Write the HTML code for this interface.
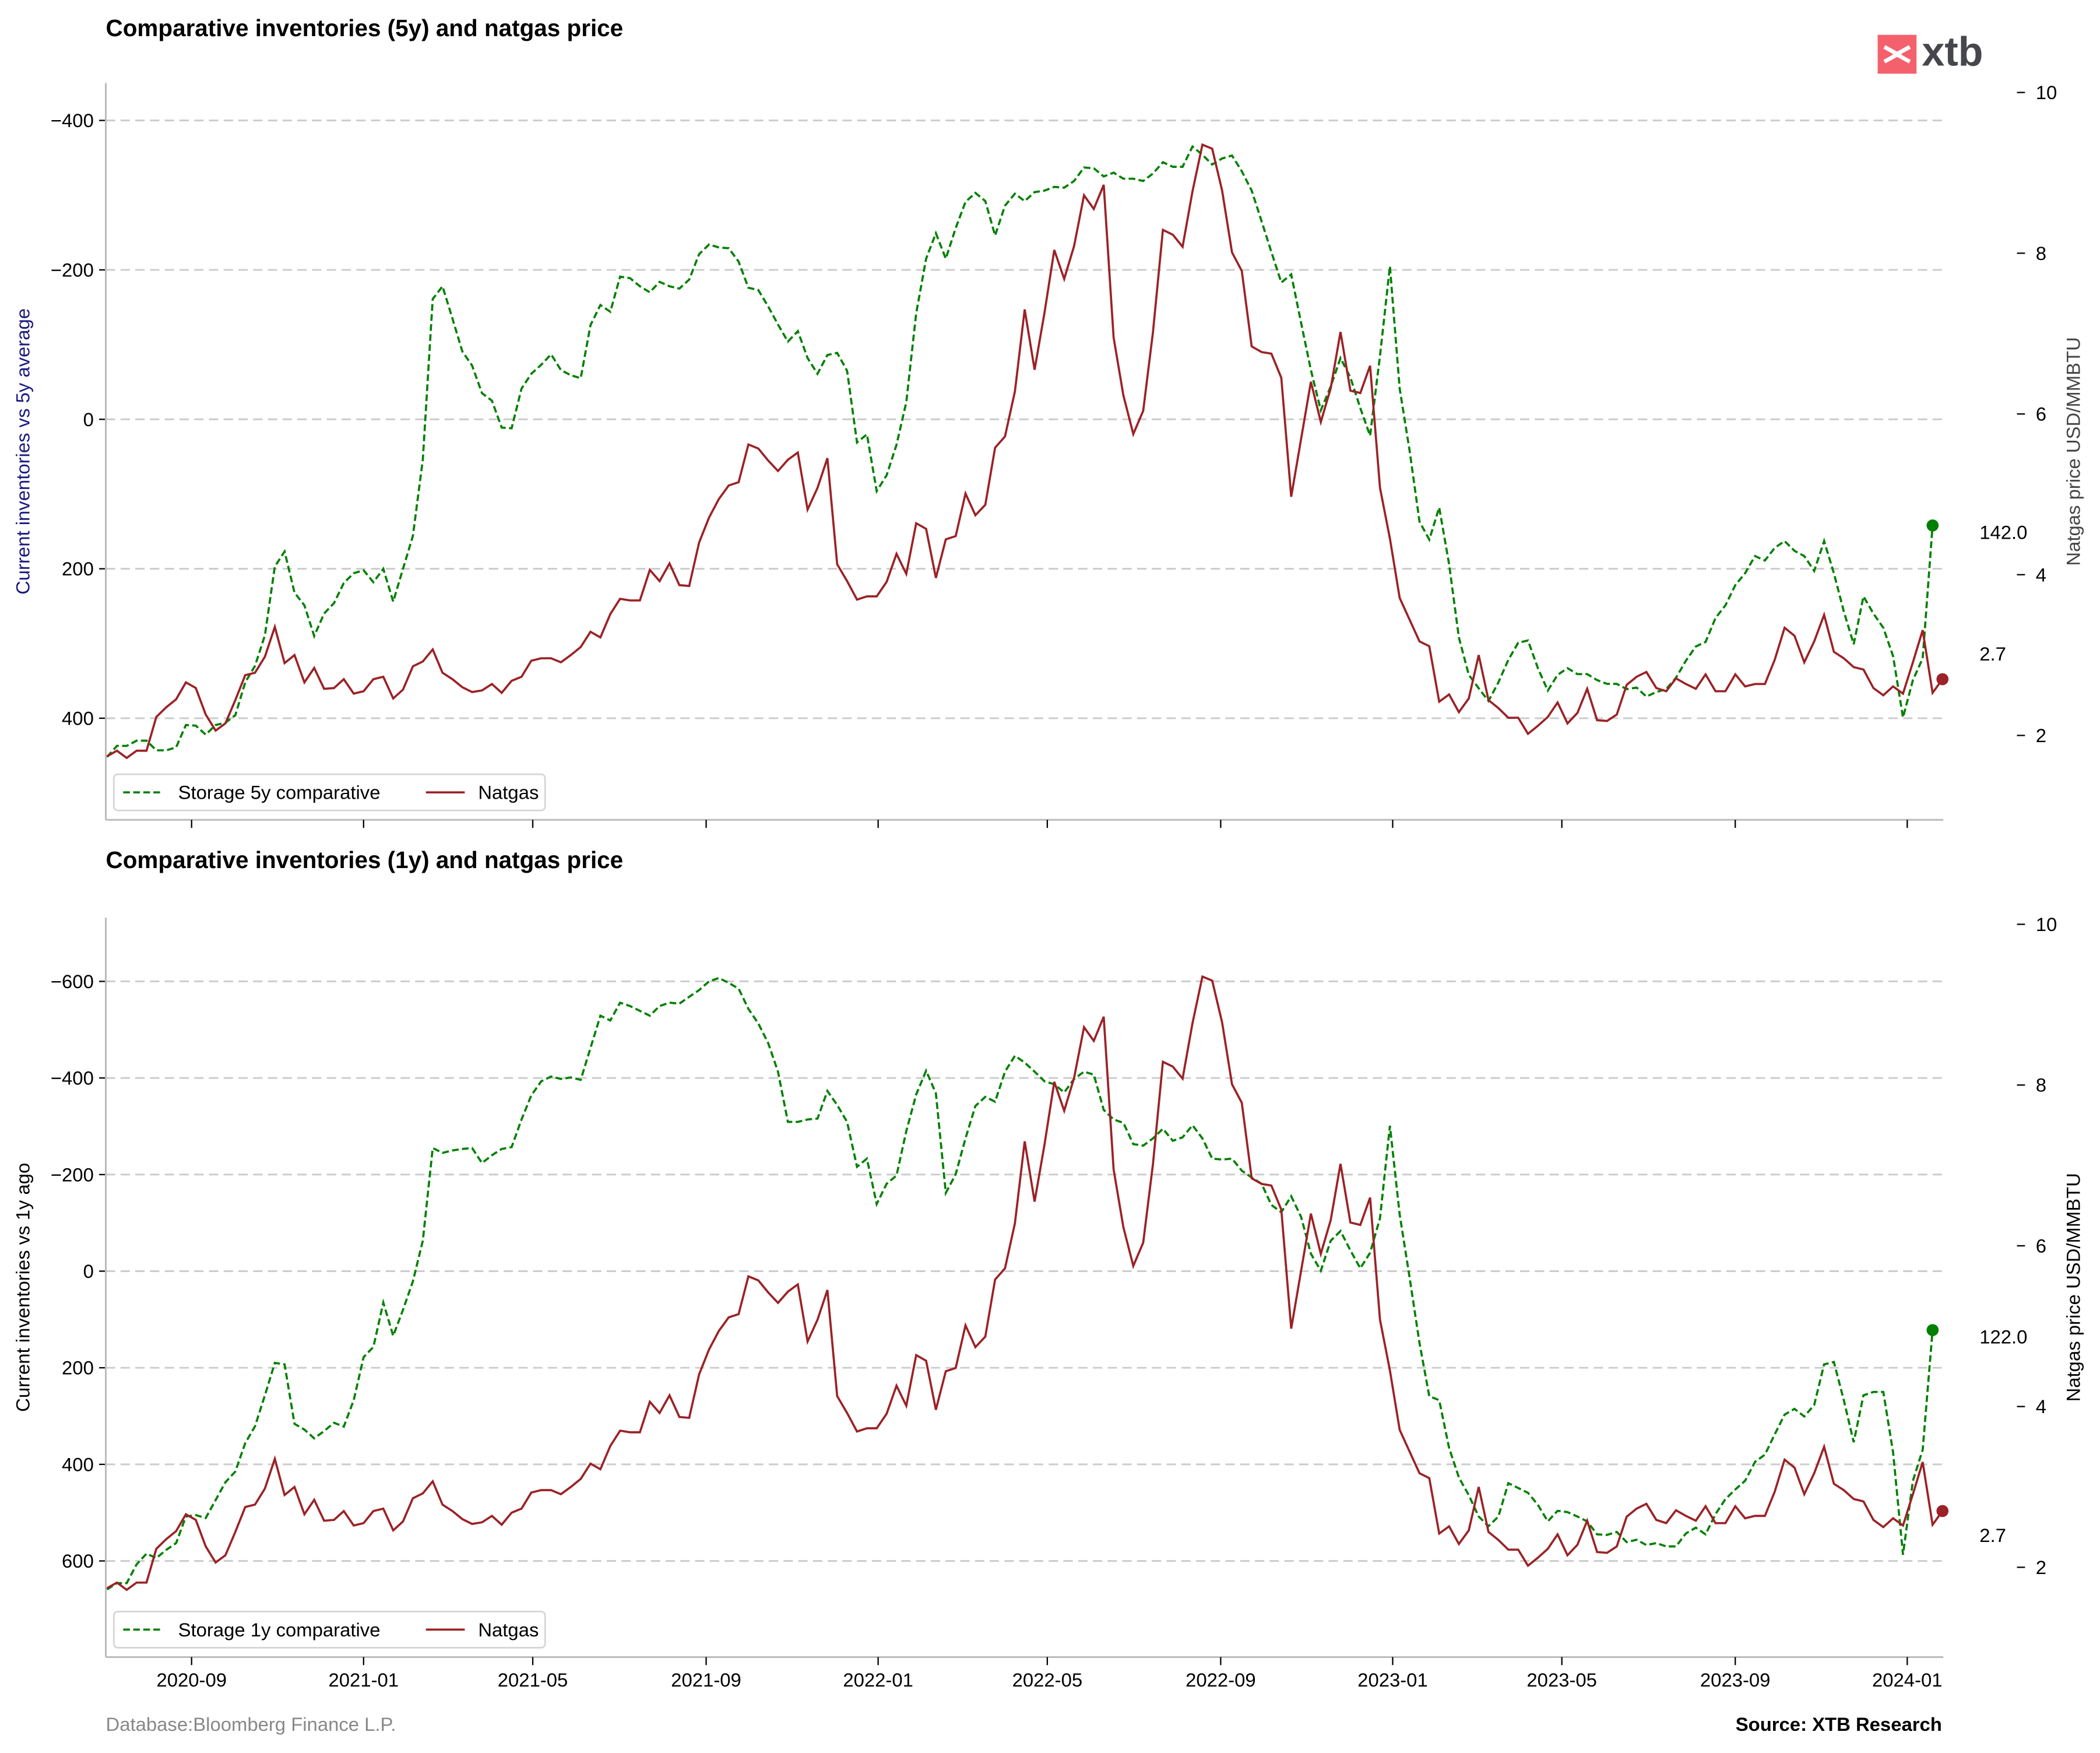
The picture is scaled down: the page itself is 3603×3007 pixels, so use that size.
<!DOCTYPE html>
<html><head><meta charset="utf-8"><style>
html,body{margin:0;padding:0;background:#fff}
svg{display:block;font-family:"Liberation Sans",Arial,sans-serif}
</style></head><body>
<svg id="chart" width="3603" height="3007" viewBox="0 0 1568 1308.6" xmlns="http://www.w3.org/2000/svg">
<rect width="1568" height="1308.6" fill="#fff"/>
<text x="79" y="27" font-size="17.6" font-weight="bold">Comparative inventories (5y) and natgas price</text>
<text x="79" y="648" font-size="17.6" font-weight="bold">Comparative inventories (1y) and natgas price</text>
<g>
<rect x="1402" y="26" width="29" height="29" fill="#f4606c"/>
<path d="M1407 35 L1417 40.5 L1407 46 M1426 35 L1416 40.5 L1426 46" stroke="#fff" stroke-width="3" fill="none"/>
<text x="1435" y="49" font-size="30.5" font-weight="bold" fill="#46464d">xtb</text>
</g>
<g id="top"></g><g id="bottom"></g>
<text x="79" y="1292" font-size="14.3" fill="#888">Database:Bloomberg Finance L.P.</text>
<text x="1450" y="1292" font-size="14.3" font-weight="bold" text-anchor="end">Source: XTB Research</text>
</svg>
<script>
const startDate = "2020-07-03";
const natgas = [1.74,1.81,1.72,1.81,1.81,2.23,2.35,2.45,2.66,2.59,2.26,2.06,2.15,2.44,2.75,2.78,2.98,3.35,2.90,3.00,2.66,2.84,2.58,2.59,2.70,2.52,2.55,2.70,2.73,2.46,2.57,2.86,2.92,3.07,2.78,2.70,2.60,2.54,2.56,2.64,2.53,2.68,2.73,2.93,2.96,2.96,
2.91,3.00,3.10,3.29,3.22,3.51,3.70,3.68,3.68,4.06,3.92,4.14,3.87,3.86,4.40,4.71,4.94,5.11,5.15,5.62,5.57,5.42,5.29,5.43,5.52,4.81,5.08,5.45,4.13,3.92,3.69,3.73,3.73,3.91,4.26,4.01,4.64,4.57,3.96,4.44,4.48,5.01,4.74,4.87,5.58,5.72,
6.28,7.30,6.55,7.26,8.04,7.68,8.09,8.72,8.55,8.85,6.95,6.23,5.75,6.04,7.02,8.29,8.23,8.08,8.77,9.35,9.30,8.78,8.01,7.78,6.84,6.77,6.75,6.45,4.97,5.69,6.40,5.90,6.32,7.02,6.29,6.26,6.60,5.08,4.45,3.71,3.44,3.17,3.11,2.42,2.51,2.29,
2.46,3.00,2.44,2.34,2.22,2.22,2.02,2.12,2.23,2.41,2.15,2.28,2.58,2.19,2.18,2.26,2.63,2.73,2.79,2.59,2.55,2.71,2.64,2.58,2.76,2.55,2.55,2.76,2.61,2.64,2.64,2.94,3.34,3.24,2.91,3.17,3.50,3.04,2.96,2.85,2.82,2.59,2.50,2.61,2.52,2.91,3.31,2.53,2.70];
const storage5y = [452,437,437,430,430,443,443,439,409,410,422,409,406,396,352,330,289,197,177,232,249,290,260,246,219,206,202,218,200,244,200,156,54,-161,-178,-135,-91,-72,-35,-25,11,12,-41,-61,-73,-87,
-66,-59,-55,-126,-153,-144,-191,-189,-178,-170,-184,-178,-175,-187,-221,-234,-230,-229,-211,-176,-173,-151,-127,-104,-118,-82,-61,-86,-89,-65,31,20,96,75,34,-23,-142,-215,-249,-215,-256,-291,-303,-292,-246,-286,
-302,-292,-304,-306,-311,-310,-319,-337,-336,-325,-330,-322,-322,-319,-329,-344,-338,-338,-365,-354,-341,-349,-353,-332,-306,-265,-224,-183,-194,-129,-66,-12,-44,-82,-56,-15,22,-85,-205,-41,42,137,161,118,194,292,
342,360,377,352,322,299,296,333,363,342,333,341,341,349,354,354,361,359,371,365,361,346,323,304,298,266,249,222,206,183,189,172,163,176,183,203,163,206,257,301,237,260,279,317,399,349,320,142];
const storage1y = [659,646,646,607,585,594,577,563,508,505,511,474,437,415,356,321,257,190,193,316,328,346,331,314,322,267,178,157,65,134,80,21,-63,-255,-245,-250,-253,-255,-224,-240,-253,-257,-314,-364,-393,-403,
-398,-401,-396,-462,-529,-519,-556,-549,-539,-529,-549,-556,-554,-568,-582,-600,-607,-597,-585,-543,-513,-472,-413,-309,-309,-314,-316,-373,-344,-309,-216,-233,-139,-181,-198,-290,-366,-415,-368,-162,-201,-275,-342,-361,-351,-413,
-446,-432,-413,-393,-387,-370,-398,-413,-407,-334,-314,-307,-263,-260,-275,-295,-270,-277,-302,-275,-233,-231,-233,-208,-194,-181,-137,-122,-155,-112,-36,-1,-63,-83,-43,-6,-38,-110,-301,-117,13,149,259,267,366,427,
464,508,528,508,439,449,459,484,518,496,499,508,518,545,546,540,561,556,567,563,570,570,543,531,545,503,472,452,434,395,380,338,297,285,301,277,193,188,267,354,257,250,250,375,587,434,370,122];
const leftTicksTop = [-400,-200,0,200,400];
const leftTicksBottom = [-600,-400,-200,0,200,400,600];
const rightTicks = [2,4,6,8,10];
const xTickLabels = ["2020-09","2021-01","2021-05","2021-09","2022-01","2022-05","2022-09","2023-01","2023-05","2023-09","2024-01"];

const NS="http://www.w3.org/2000/svg";
const DAY=86400000, t0=Date.parse(startDate);
const X0=79.9, PXDAY=1.0526, XL=79, XR=1451, FS=14.3;
function xDate(ms){return X0+(ms-t0)/DAY*PXDAY;}
function xIdx(i){return xDate(t0+i*7*DAY);}
function el(parent,tag,attrs,text){const e=document.createElementNS(NS,tag);for(const k in attrs)e.setAttribute(k,attrs[k]);if(text!==undefined)e.textContent=text;parent.appendChild(e);return e;}

function panel(g,cfg){
  const yL=v=>cfg.yTop+(v-cfg.lMin)/(cfg.lMax-cfg.lMin)*(cfg.yBot-cfg.yTop);
  const yR=v=>cfg.yBot-(v-cfg.rMin)/(cfg.rMax-cfg.rMin)*(cfg.yBot-cfg.yTop);
  cfg.leftTicks.forEach(v=>{
    const y=yL(v);
    const gl=el(g,'line',{x1:XL,x2:XR,y1:y,y2:y,stroke:'#cccccc','stroke-width':1.3,'stroke-dasharray':'7,4'});
    
    
    el(g,'line',{x1:XL-5,x2:XL,y1:y,y2:y,stroke:'#000','stroke-width':1});
    const t=el(g,'text',{x:XL-9,y:y+5,'font-size':FS,'text-anchor':'end'},v<0?'\u2212'+(-v):String(v));
    
    
  });
  rightTicks.forEach(v=>{
    const y=yR(v);
    el(g,'line',{x1:1506,x2:1512,y1:y,y2:y,stroke:'#000','stroke-width':1});
    const t=el(g,'text',{x:1520,y:y+5,'font-size':FS},String(v));
    
    
  });
  el(g,'line',{x1:XL,x2:XL,y1:cfg.yTop,y2:cfg.yBot,stroke:'#bbb','stroke-width':1.3});
  el(g,'line',{x1:XL,x2:XR,y1:cfg.yBot,y2:cfg.yBot,stroke:'#bbb','stroke-width':1.3});
  xTickLabels.forEach(s=>{
    const x=xDate(Date.parse(s+"-01"));
    el(g,'line',{x1:x,x2:x,y1:cfg.yBot,y2:cfg.yBot+6,stroke:'#000','stroke-width':1});
    if(cfg.labels){const t=el(g,'text',{x:x,y:cfg.yBot+22,'font-size':FS,'text-anchor':'middle'},s);
      
      }
  });
  const gp=cfg.storage.map((v,i)=>xIdx(i).toFixed(1)+','+yL(v).toFixed(1)).join(' ');
  const gs=el(g,'polyline',{points:gp,fill:'none',stroke:'#008000','stroke-width':1.6,'stroke-dasharray':'5,2.5'});
  
  
  const np=natgas.map((v,i)=>xIdx(i).toFixed(1)+','+yR(v).toFixed(1)).join(' ');
  const ns=el(g,'polyline',{points:np,fill:'none',stroke:'#9b2226','stroke-width':1.6});
  
  
  const li=cfg.storage.length-1, lv=cfg.storage[li];
  const d1=el(g,'circle',{cx:xIdx(li),cy:yL(lv),r:4.5,fill:'#008000'});
  
  
  const ni=natgas.length-1, nv=natgas[ni];
  const d2=el(g,'circle',{cx:xIdx(ni),cy:yR(nv),r:4.5,fill:'#9b2226'});
  
  
  const a1=el(g,'text',{x:1478,y:yL(lv)+10,'font-size':FS},lv.toFixed(1));
  
  
  const a2=el(g,'text',{x:1478,y:yR(nv)+cfg.natOff,'font-size':FS},nv.toFixed(1));
  
  
  const ly=el(g,'text',{transform:`translate(22,${(cfg.yTop+cfg.yBot)/2}) rotate(-90)`,'font-size':FS,'text-anchor':'middle',fill:cfg.lColor},cfg.lTitle);
  
  
  const ry=el(g,'text',{transform:`translate(1553,${(cfg.yTop+cfg.yBot)/2}) rotate(-90)`,'font-size':FS,'text-anchor':'middle',fill:cfg.rColor},'Natgas price USD/MMBTU');
  
  
  const lg=el(g,'g',{});
  
  
  const by=cfg.yBot-34;
  el(lg,'rect',{x:85,y:by,width:322,height:27,rx:3,fill:'#fff',stroke:'#d5d5d5','stroke-width':1.2});
  el(lg,'line',{x1:92,x2:122,y1:by+13.5,y2:by+13.5,stroke:'#008000','stroke-width':1.6,'stroke-dasharray':'5,2.5'});
  el(lg,'text',{x:133,y:by+18.5,'font-size':FS},cfg.legend);
  el(lg,'line',{x1:318,x2:347,y1:by+13.5,y2:by+13.5,stroke:'#9b2226','stroke-width':1.6});
  el(lg,'text',{x:357,y:by+18.5,'font-size':FS},'Natgas');
}
panel(document.getElementById('top'),{yTop:62,yBot:612,lMin:-450,lMax:536,rMin:0.95,rMax:10.117,leftTicks:leftTicksTop,storage:storage5y,labels:false,natOff:-14,lTitle:'Current inventories vs 5y average',lColor:'#1a1a80',rColor:'#444',legend:'Storage 5y comparative'});
panel(document.getElementById('bottom'),{yTop:685,yBot:1237,lMin:-732,lMax:799,rMin:0.883,rMax:10.083,leftTicks:leftTicksBottom,storage:storage1y,labels:true,natOff:23,lTitle:'Current inventories vs 1y ago',lColor:'#000',rColor:'#000',legend:'Storage 1y comparative'});
</script>
</body></html>
